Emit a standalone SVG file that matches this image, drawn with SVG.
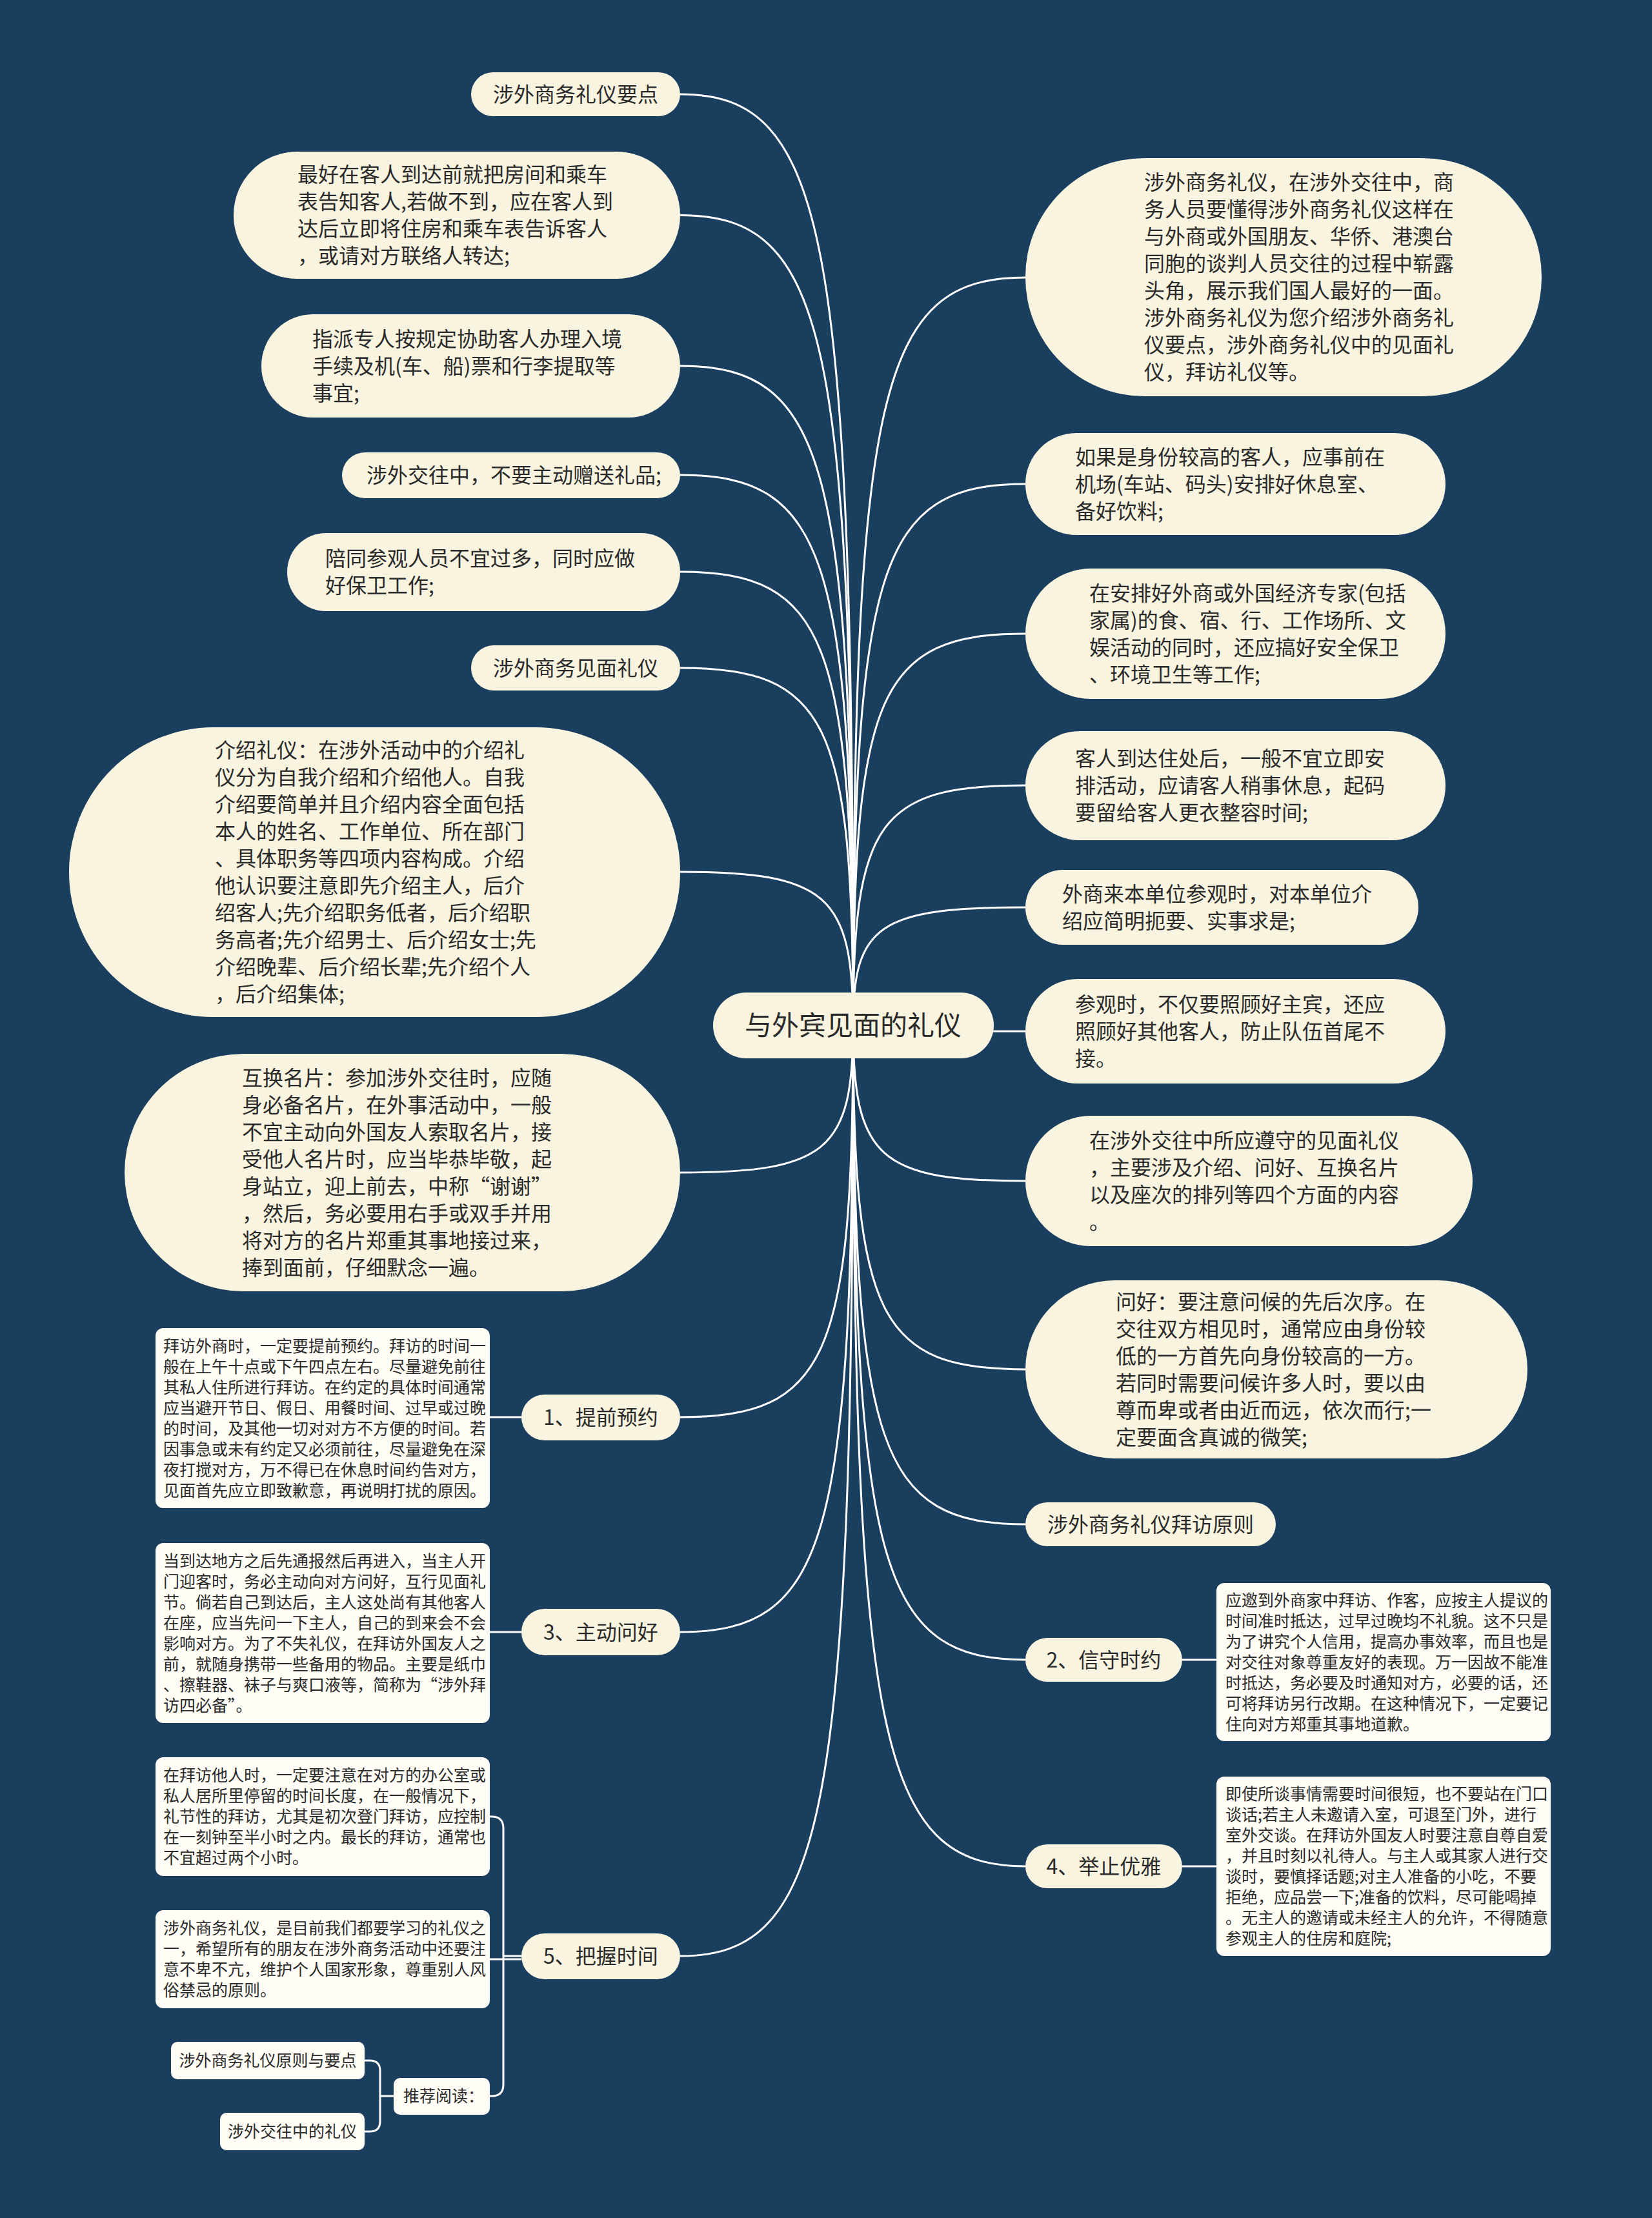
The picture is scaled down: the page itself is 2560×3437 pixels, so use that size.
<svg xmlns="http://www.w3.org/2000/svg" width="2560" height="3437" viewBox="0 0 2560 3437">
<style>
  .bg{fill:#1a3e5e}
  .n{fill:#f9f4e0}
  .b{fill:#fffdf6}
  .t{font-family:"Noto Sans CJK SC","Noto Sans",sans-serif;fill:#2a2a2a}
  .f42{font-size:42px}
  .f32{font-size:32px}
  .f25{font-size:25px}
  .c{fill:none;stroke:#ffffff;stroke-width:3}
</style>
<rect class="bg" x="0" y="0" width="2560" height="3437"/>

<g id="connectors">
  <path class="c" d="M1322 1589 C1322 362.5 1281.8 146 1054 146"/>
  <path class="c" d="M1322 1589 C1322 521.8 1281.8 333.5 1054 333.5"/>
  <path class="c" d="M1322 1589 C1322 720.3 1281.8 567 1054 567"/>
  <path class="c" d="M1322 1589 C1322 864 1281.8 736 1054 736"/>
  <path class="c" d="M1322 1589 C1322 991.5 1281.8 886 1054 886"/>
  <path class="c" d="M1322 1589 C1322 1118.1 1281.8 1035 1054 1035"/>
  <path class="c" d="M1322 1589 C1322 1386.7 1281.8 1351 1054 1351"/>
  <path class="c" d="M1322 1589 C1322 1782.8 1281.8 1817 1054 1817"/>
  <path class="c" d="M1322 1589 C1322 2105 1281.8 2196 1054 2196"/>
  <path class="c" d="M1322 1589 C1322 2388 1281.8 2529 1054 2529"/>
  <path class="c" d="M1322 1589 C1322 2814.7 1281.8 3031 1054 3031"/>
  <path class="c" d="M1322 1589 C1322 603.9 1362 430 1589 430"/>
  <path class="c" d="M1322 1589 C1322 875.9 1362 750 1589 750"/>
  <path class="c" d="M1322 1589 C1322 1073 1362 982 1589 982"/>
  <path class="c" d="M1322 1589 C1322 1272.8 1362 1217 1589 1217"/>
  <path class="c" d="M1322 1589 C1322 1433.5 1362 1406 1589 1406"/>
  <path class="c" d="M1322 1598 L1589 1598"/>
  <path class="c" d="M1322 1589 C1322 1793.9 1362 1830 1589 1830"/>
  <path class="c" d="M1322 1589 C1322 2042 1362 2122 1589 2122"/>
  <path class="c" d="M1322 1589 C1322 2246 1362 2362 1589 2362"/>
  <path class="c" d="M1322 1589 C1322 2424.6 1362 2572 1589 2572"/>
  <path class="c" d="M1322 1589 C1322 2696.6 1362 2892 1589 2892"/>
  <path class="c" d="M808 2196 L759 2196"/>
  <path class="c" d="M808 2529 L759 2529"/>
  <path class="c" d="M1832 2572 L1885 2572"/>
  <path class="c" d="M1832 2892 L1885 2892"/>
  <path class="c" d="M808 3031 L780 3031"/>
  <path class="c" d="M780 3031 L780 2833 Q780 2815 762 2815 L759 2815"/>
  <path class="c" d="M808 3036 L759 3036"/>
  <path class="c" d="M780 3031 L780 3230 Q780 3248 762 3248 L759 3248"/>
  <path class="c" d="M611 3248 L589 3248"/>
  <path class="c" d="M589 3248 L589 3209 Q589 3193 573 3193 L565 3193"/>
  <path class="c" d="M589 3248 L589 3287 Q589 3303 573 3303 L565 3303"/>
</g>

<g id="center">
  <rect class="n" x="1105" y="1538" width="435" height="102" rx="51"/>
  <text class="t f42" x="1322" y="1604" text-anchor="middle">与外宾见面的礼仪</text>
</g>

<g id="L1">
  <rect class="n" x="730" y="112" width="324" height="68" rx="34"/>
  <text class="t f32" x="892" y="157.5" text-anchor="middle">涉外商务礼仪要点</text>
</g>
<g id="L2">
  <rect class="n" x="362" y="235" width="692" height="197" rx="98"/>
  <text class="t f32" x="461" y="282"><tspan x="461">最好在客人到达前就把房间和乘车</tspan><tspan x="461" dy="42">表告知客人,若做不到，应在客人到</tspan><tspan x="461" dy="42">达后立即将住房和乘车表告诉客人</tspan><tspan x="461" dy="42">，或请对方联络人转达;</tspan></text>
</g>
<g id="L3">
  <rect class="n" x="405" y="487" width="649" height="160" rx="80"/>
  <text class="t f32" x="484" y="536.5"><tspan x="484">指派专人按规定协助客人办理入境</tspan><tspan x="484" dy="42">手续及机(车、船)票和行李提取等</tspan><tspan x="484" dy="42">事宜;</tspan></text>
</g>
<g id="L4">
  <rect class="n" x="530" y="701" width="524" height="71" rx="35.5"/>
  <text class="t f32" x="568" y="747.5">涉外交往中，不要主动赠送礼品;</text>
</g>
<g id="L5">
  <rect class="n" x="445" y="826" width="609" height="121" rx="60"/>
  <text class="t f32" x="504" y="876.5"><tspan x="504">陪同参观人员不宜过多，同时应做</tspan><tspan x="504" dy="42">好保卫工作;</tspan></text>
</g>
<g id="L6">
  <rect class="n" x="730" y="1000" width="324" height="70" rx="35"/>
  <text class="t f32" x="892" y="1046.5" text-anchor="middle">涉外商务见面礼仪</text>
</g>
<g id="L7">
  <rect class="n" x="107" y="1127" width="947" height="449" rx="224"/>
  <text class="t f32" x="333" y="1174"><tspan x="333">介绍礼仪：在涉外活动中的介绍礼</tspan><tspan x="333" dy="42">仪分为自我介绍和介绍他人。自我</tspan><tspan x="333" dy="42">介绍要简单并且介绍内容全面包括</tspan><tspan x="333" dy="42">本人的姓名、工作单位、所在部门</tspan><tspan x="333" dy="42">、具体职务等四项内容构成。介绍</tspan><tspan x="333" dy="42">他认识要注意即先介绍主人，后介</tspan><tspan x="333" dy="42">绍客人;先介绍职务低者，后介绍职</tspan><tspan x="333" dy="42">务高者;先介绍男士、后介绍女士;先</tspan><tspan x="333" dy="42">介绍晚辈、后介绍长辈;先介绍个人</tspan><tspan x="333" dy="42">，后介绍集体;</tspan></text>
</g>
<g id="L8">
  <rect class="n" x="193" y="1633" width="861" height="368" rx="184"/>
  <text class="t f32" x="375" y="1681.5"><tspan x="375">互换名片：参加涉外交往时，应随</tspan><tspan x="375" dy="42">身必备名片，在外事活动中，一般</tspan><tspan x="375" dy="42">不宜主动向外国友人索取名片，接</tspan><tspan x="375" dy="42">受他人名片时，应当毕恭毕敬，起</tspan><tspan x="375" dy="42">身站立，迎上前去，中称“谢谢”</tspan><tspan x="375" dy="42">，然后，务必要用右手或双手并用</tspan><tspan x="375" dy="42">将对方的名片郑重其事地接过来，</tspan><tspan x="375" dy="42">捧到面前，仔细默念一遍。</tspan></text>
</g>
<g id="LB1">
  <rect class="n" x="808" y="2161" width="246" height="71" rx="35.5"/>
  <text class="t f32" x="931" y="2207.5" text-anchor="middle">1、提前预约</text>
</g>
<g id="LB2">
  <rect class="n" x="808" y="2493" width="246" height="72" rx="36"/>
  <text class="t f32" x="931" y="2540.5" text-anchor="middle">3、主动问好</text>
</g>
<g id="LB3">
  <rect class="n" x="808" y="2996" width="246" height="71" rx="35.5"/>
  <text class="t f32" x="931" y="3042.5" text-anchor="middle">5、把握时间</text>
</g>
<g id="B1">
  <rect class="b" x="241" y="2058" width="518" height="279" rx="12"/>
  <text class="t f25" x="253" y="2094.5"><tspan x="253">拜访外商时，一定要提前预约。拜访的时间一</tspan><tspan x="253" dy="32">般在上午十点或下午四点左右。尽量避免前往</tspan><tspan x="253" dy="32">其私人住所进行拜访。在约定的具体时间通常</tspan><tspan x="253" dy="32">应当避开节日、假日、用餐时间、过早或过晚</tspan><tspan x="253" dy="32">的时间，及其他一切对对方不方便的时间。若</tspan><tspan x="253" dy="32">因事急或未有约定又必须前往，尽量避免在深</tspan><tspan x="253" dy="32">夜打搅对方，万不得已在休息时间约告对方，</tspan><tspan x="253" dy="32">见面首先应立即致歉意，再说明打扰的原因。</tspan></text>
</g>
<g id="B2">
  <rect class="b" x="241" y="2391" width="518" height="279" rx="12"/>
  <text class="t f25" x="253" y="2427.5"><tspan x="253">当到达地方之后先通报然后再进入，当主人开</tspan><tspan x="253" dy="32">门迎客时，务必主动向对方问好，互行见面礼</tspan><tspan x="253" dy="32">节。倘若自己到达后，主人这处尚有其他客人</tspan><tspan x="253" dy="32">在座，应当先问一下主人，自己的到来会不会</tspan><tspan x="253" dy="32">影响对方。为了不失礼仪，在拜访外国友人之</tspan><tspan x="253" dy="32">前，就随身携带一些备用的物品。主要是纸巾</tspan><tspan x="253" dy="32">、擦鞋器、袜子与爽口液等，简称为“涉外拜</tspan><tspan x="253" dy="32">访四必备”。</tspan></text>
</g>
<g id="B3">
  <rect class="b" x="241" y="2723" width="518" height="184" rx="12"/>
  <text class="t f25" x="253" y="2760"><tspan x="253">在拜访他人时，一定要注意在对方的办公室或</tspan><tspan x="253" dy="32">私人居所里停留的时间长度，在一般情况下，</tspan><tspan x="253" dy="32">礼节性的拜访，尤其是初次登门拜访，应控制</tspan><tspan x="253" dy="32">在一刻钟至半小时之内。最长的拜访，通常也</tspan><tspan x="253" dy="32">不宜超过两个小时。</tspan></text>
</g>
<g id="B4">
  <rect class="b" x="241" y="2960" width="518" height="152" rx="12"/>
  <text class="t f25" x="253" y="2997"><tspan x="253">涉外商务礼仪，是目前我们都要学习的礼仪之</tspan><tspan x="253" dy="32">一，希望所有的朋友在涉外商务活动中还要注</tspan><tspan x="253" dy="32">意不卑不亢，维护个人国家形象，尊重别人风</tspan><tspan x="253" dy="32">俗禁忌的原则。</tspan></text>
</g>
<g id="B5">
  <rect class="b" x="610" y="3220" width="149" height="57" rx="10"/>
  <text class="t f25" x="625" y="3257">推荐阅读：</text>
</g>
<g id="B6">
  <rect class="b" x="265" y="3164" width="300" height="58" rx="10"/>
  <text class="t f25" x="415" y="3202" text-anchor="middle">涉外商务礼仪原则与要点</text>
</g>
<g id="B7">
  <rect class="b" x="341" y="3274" width="224" height="58" rx="10"/>
  <text class="t f25" x="453" y="3312" text-anchor="middle">涉外交往中的礼仪</text>
</g>

<g id="R1">
  <rect class="n" x="1589" y="245" width="800" height="369" rx="184"/>
  <text class="t f32" x="1773" y="294"><tspan x="1773">涉外商务礼仪，在涉外交往中，商</tspan><tspan x="1773" dy="42">务人员要懂得涉外商务礼仪这样在</tspan><tspan x="1773" dy="42">与外商或外国朋友、华侨、港澳台</tspan><tspan x="1773" dy="42">同胞的谈判人员交往的过程中崭露</tspan><tspan x="1773" dy="42">头角，展示我们国人最好的一面。</tspan><tspan x="1773" dy="42">涉外商务礼仪为您介绍涉外商务礼</tspan><tspan x="1773" dy="42">仪要点，涉外商务礼仪中的见面礼</tspan><tspan x="1773" dy="42">仪，拜访礼仪等。</tspan></text>
</g>
<g id="R2">
  <rect class="n" x="1589" y="671" width="651" height="158" rx="79"/>
  <text class="t f32" x="1666" y="719.5"><tspan x="1666">如果是身份较高的客人，应事前在</tspan><tspan x="1666" dy="42">机场(车站、码头)安排好休息室、</tspan><tspan x="1666" dy="42">备好饮料;</tspan></text>
</g>
<g id="R3">
  <rect class="n" x="1589" y="881" width="651" height="202" rx="101"/>
  <text class="t f32" x="1688" y="930.5"><tspan x="1688">在安排好外商或外国经济专家(包括</tspan><tspan x="1688" dy="42">家属)的食、宿、行、工作场所、文</tspan><tspan x="1688" dy="42">娱活动的同时，还应搞好安全保卫</tspan><tspan x="1688" dy="42">、环境卫生等工作;</tspan></text>
</g>
<g id="R4">
  <rect class="n" x="1589" y="1133" width="651" height="169" rx="84"/>
  <text class="t f32" x="1666" y="1187"><tspan x="1666">客人到达住处后，一般不宜立即安</tspan><tspan x="1666" dy="42">排活动，应请客人稍事休息，起码</tspan><tspan x="1666" dy="42">要留给客人更衣整容时间;</tspan></text>
</g>
<g id="R5">
  <rect class="n" x="1589" y="1348" width="609" height="116" rx="58"/>
  <text class="t f32" x="1646" y="1396.5"><tspan x="1646">外商来本单位参观时，对本单位介</tspan><tspan x="1646" dy="42">绍应简明扼要、实事求是;</tspan></text>
</g>
<g id="R6">
  <rect class="n" x="1589" y="1517" width="651" height="162" rx="81"/>
  <text class="t f32" x="1666" y="1567.5"><tspan x="1666">参观时，不仅要照顾好主宾，还应</tspan><tspan x="1666" dy="42">照顾好其他客人，防止队伍首尾不</tspan><tspan x="1666" dy="42">接。</tspan></text>
</g>
<g id="R7">
  <rect class="n" x="1589" y="1729" width="693" height="202" rx="101"/>
  <text class="t f32" x="1688" y="1778.5"><tspan x="1688">在涉外交往中所应遵守的见面礼仪</tspan><tspan x="1688" dy="42">，主要涉及介绍、问好、互换名片</tspan><tspan x="1688" dy="42">以及座次的排列等四个方面的内容</tspan><tspan x="1688" dy="42">。</tspan></text>
</g>
<g id="R8">
  <rect class="n" x="1589" y="1984" width="778" height="276" rx="138"/>
  <text class="t f32" x="1729" y="2028.5"><tspan x="1729">问好：要注意问候的先后次序。在</tspan><tspan x="1729" dy="42">交往双方相见时，通常应由身份较</tspan><tspan x="1729" dy="42">低的一方首先向身份较高的一方。</tspan><tspan x="1729" dy="42">若同时需要问候许多人时，要以由</tspan><tspan x="1729" dy="42">尊而卑或者由近而远，依次而行;一</tspan><tspan x="1729" dy="42">定要面含真诚的微笑;</tspan></text>
</g>
<g id="R9">
  <rect class="n" x="1589" y="2328" width="388" height="68" rx="34"/>
  <text class="t f32" x="1783" y="2373.5" text-anchor="middle">涉外商务礼仪拜访原则</text>
</g>
<g id="R10">
  <rect class="n" x="1589" y="2538" width="243" height="68" rx="34"/>
  <text class="t f32" x="1710.5" y="2583.5" text-anchor="middle">2、信守时约</text>
</g>
<g id="R11">
  <rect class="n" x="1589" y="2858" width="243" height="68" rx="34"/>
  <text class="t f32" x="1710.5" y="2903.5" text-anchor="middle">4、举止优雅</text>
</g>
<g id="RB1">
  <rect class="b" x="1885" y="2453" width="518" height="245" rx="12"/>
  <text class="t f25" x="1899" y="2488.5"><tspan x="1899">应邀到外商家中拜访、作客，应按主人提议的</tspan><tspan x="1899" dy="32">时间准时抵达，过早过晚均不礼貌。这不只是</tspan><tspan x="1899" dy="32">为了讲究个人信用，提高办事效率，而且也是</tspan><tspan x="1899" dy="32">对交往对象尊重友好的表现。万一因故不能准</tspan><tspan x="1899" dy="32">时抵达，务必要及时通知对方，必要的话，还</tspan><tspan x="1899" dy="32">可将拜访另行改期。在这种情况下，一定要记</tspan><tspan x="1899" dy="32">住向对方郑重其事地道歉。</tspan></text>
</g>
<g id="RB2">
  <rect class="b" x="1885" y="2753" width="518" height="278" rx="12"/>
  <text class="t f25" x="1899" y="2789"><tspan x="1899">即使所谈事情需要时间很短，也不要站在门口</tspan><tspan x="1899" dy="32">谈话;若主人未邀请入室，可退至门外，进行</tspan><tspan x="1899" dy="32">室外交谈。在拜访外国友人时要注意自尊自爱</tspan><tspan x="1899" dy="32">，并且时刻以礼待人。与主人或其家人进行交</tspan><tspan x="1899" dy="32">谈时，要慎择话题;对主人准备的小吃，不要</tspan><tspan x="1899" dy="32">拒绝，应品尝一下;准备的饮料，尽可能喝掉</tspan><tspan x="1899" dy="32">。无主人的邀请或未经主人的允许，不得随意</tspan><tspan x="1899" dy="32">参观主人的住房和庭院;</tspan></text>
</g>
</svg>
